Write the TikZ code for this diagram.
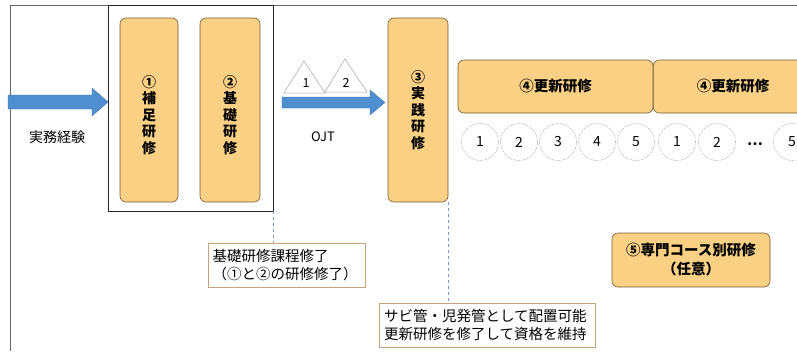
\documentclass[tikz,border=0pt]{standalone}
\usepackage{fontspec}
\setmainfont{Noto Sans CJK JP}
\usetikzlibrary{calc}
\definecolor{boxfill}{HTML}{FAD084}
\definecolor{boxline}{HTML}{7A5A30}
\definecolor{arrowblue}{HTML}{4F8ED0}
\definecolor{dashblue}{HTML}{6F9BD0}
\definecolor{notebord}{HTML}{C9A27C}
\tikzset{
  x=1pt, y=-1pt,
  stage/.style={draw=boxline, line width=0.6pt, fill=boxfill, rounded corners=6pt,
    minimum width=#1, minimum height=184pt, inner sep=0pt},
  stagetext/.style={inner sep=0pt, font=\fontsize{14}{16.5}\selectfont\bfseries, align=center},
  renew/.style={draw=boxline, line width=0.6pt, fill=boxfill, rounded corners=6pt,
    minimum height=53pt, inner sep=0pt, font=\fontsize{14.5}{17}\selectfont\bfseries},
  yearc/.style={circle, draw=gray!65, dash pattern=on 1.6pt off 1.2pt, line width=0.5pt, minimum size=37pt,
    inner sep=0pt, font=\fontsize{14}{16}\selectfont},
  note/.style={draw=notebord, line width=0.6pt, fill=white, inner sep=0pt,
    minimum height=44pt, font=\fontsize{14.5}{18}\selectfont},
  plain/.style={inner sep=0pt, font=\fontsize{14}{17}\selectfont},
  conn/.style={draw=dashblue, dashed, line width=0.7pt},
  blockarrow/.style={fill=arrowblue, draw=arrowblue!80!black, line width=0.3pt},
  tri/.style={draw=gray!70, fill=white, line width=0.5pt}
}
\begin{document}
\begin{tikzpicture}
\path[use as bounding box] (0,0) rectangle (797,351);
\clip (0,0) rectangle (797,351);
\fill[white] (0,0) rectangle (797,351);
% outer frame
\draw[gray!80!black, line width=0.8pt] (10,351) -- (10,5) -- (800,5);
% inner box around 1 and 2
\node[draw=black!85, line width=0.8pt, minimum width=165pt, minimum height=206pt, inner sep=0pt] (inner) at (190.5,108) {};
% left arrow
\draw[blockarrow] (8,95) -- (92,95) -- (92,88) -- (108,102) -- (92,116) -- (92,109) -- (8,109) -- cycle;
\node[plain] (exp) at (57,137) {実務経験};
% stage boxes
\node[stage=58pt] (b1) at (149,110) {};
\node[stage=60pt] (b2) at (230,110) {};
\node[stage=60pt] (b3) at (418,110) {};
\node[stagetext] (b1t) at ($(b1.center)+(0,5)$) {①\\補\\足\\研\\修};
\node[stagetext] (b2t) at ($(b2.center)+(0,5)$) {②\\基\\礎\\研\\修};
\node[stagetext] (b3t) at ($(b3.center)+(0,0)$) {③\\実\\践\\研\\修};
% OJT arrow and triangles
\draw[tri] (284,93) -- (304,61) -- (325,93) -- cycle;
\draw[tri] (325,92) -- (345,59) -- (367,92) -- cycle;
\node[inner sep=0pt, font=\fontsize{12.5}{14}\selectfont] (t1) at (306,83) {1};
\node[inner sep=0pt, font=\fontsize{12.5}{14}\selectfont] (t2) at (346,83) {2};
\draw[blockarrow] (282,97) -- (370,97) -- (370,90) -- (385,102.5) -- (370,115) -- (370,108) -- (282,108) -- cycle;
\node[plain, font=\fontsize{13}{15}\selectfont] (ojt) at (323,137) {OJT};
% renewal boxes
\node[renew, minimum width=195pt] (r1) at (555.5,86.5) {④更新研修};
\node[renew, minimum width=160pt, anchor=west] (r2) at (653,86.5) {};
\node[font=\fontsize{14.5}{17}\selectfont\bfseries, inner sep=0pt] (r2t) at (733,86) {④更新研修};
% year circles
\node[yearc] (c1) at (480,142) {1};
\node[yearc] (c2) at (519,142) {2};
\node[yearc] (c3) at (558,142) {3};
\node[yearc] (c4) at (597,142) {4};
\node[yearc] (c5) at (636,142) {5};
\node[yearc] (c6) at (677,142) {1};
\node[yearc] (c7) at (717,142) {2};
\node[inner sep=0pt, font=\fontsize{14}{15}\selectfont\bfseries] (dots) at (755,144) {\dots};
\node[yearc] (c8) at (792,142) {5};
% notes
\node[note, minimum width=157pt, align=left, text width=148pt] (na) at (286.5,265) {基礎研修課程修了\\（①と②の研修修了）};
\node[note, minimum width=216pt, align=left, text width=206pt] (nb) at (487,325) {サビ管・児発管として配置可能\\更新研修を修了して資格を維持};
% dashed connectors
\draw[conn] (inner.south east) -- (inner.south east |- na.north);
\draw[conn] (b3.south east) -- (b3.south east |- nb.north);
% specialist course
\node[draw=boxline, line width=0.6pt, fill=boxfill, rounded corners=6pt, minimum width=158pt,
  minimum height=54pt, inner sep=0pt, align=center, font=\fontsize{14.5}{19}\selectfont\bfseries] (sp) at (691,260) {⑤専門コース別研修\\（任意）};
\end{tikzpicture}
\end{document}
